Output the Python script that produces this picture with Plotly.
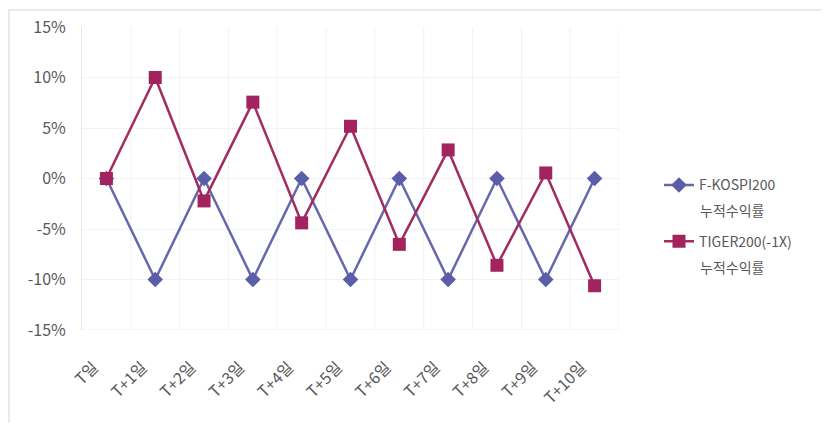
import plotly.graph_objects as go

categories = ["T일", "T+1일", "T+2일", "T+3일", "T+4일", "T+5일",
              "T+6일", "T+7일", "T+8일", "T+9일", "T+10일"]
kospi = [0, -10, 0, -10, 0, -10, 0, -10, 0, -10, 0]
tiger = [0, 10, -2.22, 7.56, -4.39, 5.17, -6.52, 2.83, -8.59, 0.55, -10.62]
name_kospi = "F-KOSPI200"
name_tiger = "TIGER200(-1X)"
legend_sub = "누적수익률"
yticks = [-15, -10, -5, 0, 5, 10, 15]
yticktext = [f"{v}%" for v in yticks]

font_family = "Noto Sans CJK KR, Noto Sans, sans-serif"
txt = "#595959"

fig = go.Figure()
fig.add_trace(go.Scatter(
    x=categories, y=kospi, name=name_kospi, mode="lines+markers",
    legendgroup="a",
    line=dict(color="#6667AC", width=2.5),
    marker=dict(symbol="diamond", size=12, color="#5A5DA8"),
))
fig.add_trace(go.Scatter(
    x=categories, y=tiger, name=name_tiger, mode="lines+markers",
    legendgroup="b",
    line=dict(color="#A02C60", width=2.5),
    marker=dict(symbol="square", size=13, color="#A3235E"),
))

W, H = 813, 415
L, T, PW, PH = 74, 19, 537, 303
fig.update_layout(
    width=W, height=H,
    margin=dict(l=L, r=W - L - PW, t=T, b=H - T - PH, autoexpand=False),
    paper_bgcolor="white", plot_bgcolor="white",
    font=dict(family=font_family, size=14, color=txt),
    showlegend=True,
    legend=dict(x=(651 - L) / PW, y=0.53, xanchor="left", yanchor="top",
                font=dict(size=14, color=txt), tracegroupgap=35,
                traceorder="grouped", bgcolor="rgba(0,0,0,0)"),
    xaxis=dict(
        type="category", tickangle=-45, showgrid=False,
        showline=False, zeroline=False, ticks="",
        tickfont=dict(size=16, color=txt),
        ticklabelstandoff=24, ticklabelshift=-13,
        range=[-0.5, len(categories) - 0.5],
    ),
    yaxis=dict(
        range=[-15, 15], tickvals=yticks, ticktext=yticktext,
        showgrid=True, gridcolor="#F2F2F2", gridwidth=1,
        zeroline=False, showline=True, linecolor="#E6E6E6",
        ticks="", tickfont=dict(size=16, color=txt),
        ticklabelstandoff=12,
    ),
)

for yy in (0.396, 0.208):
    fig.add_annotation(text=legend_sub, xref="paper", yref="paper",
                       x=(690 - L) / PW, y=yy, xanchor="left", yanchor="middle",
                       showarrow=False, font=dict(size=14, color=txt))

# vertical gridlines between categories
for i in range(len(categories)):
    fig.add_shape(type="line", xref="x", yref="y",
                  x0=i + 0.5, x1=i + 0.5, y0=-15, y1=15,
                  line=dict(color="#F2F2F2", width=1), layer="below")
fig.add_shape(type="line", xref="paper", yref="y", x0=0, x1=1, y0=-15, y1=-15,
              line=dict(color="#EEEEEE", width=1), layer="below")

# chart border
fig.add_shape(type="rect", xref="paper", yref="paper",
              x0=-(L - 1) / PW, x1=1 + 260 / PW, y0=-140 / PH, y1=1 + 17 / PH,
              line=dict(color="#E4E4E4", width=1.5), layer="below")

fig.write_html("out.html")
